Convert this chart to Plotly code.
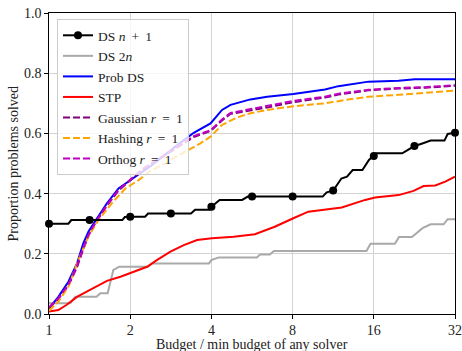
import plotly.graph_objects as go

# ---- data (budget ratio, proportion solved) ----
ds_n1_x = [1.0, 1.18, 1.21, 1.414, 1.87, 1.91, 2.0, 2.27, 2.33, 2.83, 3.36, 3.48, 3.94, 4.0, 4.29,
           5.2, 5.46, 5.66, 8.0, 10.34, 10.7, 11.31, 12.13, 12.73, 13.36, 14.52, 15.35, 16.0, 16.33,
           20.39, 21.41, 22.63, 23.92, 25.99, 29.24, 30.06, 32.0]
ds_n1_y = [0.300, 0.300, 0.312, 0.312, 0.312, 0.322, 0.323, 0.323, 0.334, 0.334, 0.334, 0.346, 0.346,
           0.356, 0.379, 0.379, 0.390, 0.390, 0.390, 0.390, 0.404, 0.410, 0.450, 0.456, 0.478, 0.478,
           0.512, 0.525, 0.534, 0.534, 0.545, 0.558, 0.565, 0.576, 0.576, 0.598, 0.602]
ds_n1_mark_x = [1.0, 1.414, 2.0, 2.83, 4.0, 5.66, 8.0, 11.31, 16.0, 22.63, 32.0]
ds_n1_mark_y = [0.300, 0.312, 0.323, 0.334, 0.356, 0.390, 0.390, 0.410, 0.525, 0.558, 0.602]

ds_2n_x = [1.0, 1.2, 1.25, 1.5, 1.55, 1.65, 1.72, 1.73, 1.82, 2.33, 2.41, 3.92, 4.0, 4.26, 5.9,
           6.06, 6.59, 6.82, 15.03, 15.56, 19.16, 19.84, 22.16, 24.25, 25.99, 29.04, 30.06, 32.0]
ds_2n_y = [0.036, 0.036, 0.057, 0.057, 0.069, 0.069, 0.135, 0.146, 0.157, 0.157, 0.168, 0.168, 0.179,
           0.188, 0.188, 0.198, 0.198, 0.209, 0.209, 0.233, 0.233, 0.256, 0.256, 0.285, 0.298, 0.298,
           0.315, 0.315]

prob_ds_x = [1.0, 1.083, 1.18, 1.27, 1.34, 1.40, 1.48, 1.64, 1.81, 1.89, 2.0, 2.21, 2.41, 2.94, 3.44,
             3.97, 4.38, 4.71, 5.20, 5.58, 6.44, 8.05, 10.55, 11.83, 15.29, 19.77, 22.72, 32.0]
prob_ds_y = [0.019, 0.057, 0.107, 0.168, 0.235, 0.273, 0.307, 0.368, 0.417, 0.429, 0.445, 0.473, 0.495,
             0.556, 0.602, 0.633, 0.678, 0.695, 0.705, 0.713, 0.722, 0.731, 0.746, 0.757, 0.772, 0.775,
             0.780, 0.780]

stp_x = [1.0, 1.083, 1.16, 1.27, 1.38, 1.50, 1.64, 1.84, 2.06, 2.31, 2.51, 2.82, 3.16, 3.54, 4.02,
         4.84, 5.80, 6.87, 8.05, 9.15, 12.17, 14.86, 16.18, 19.77, 22.47, 24.48, 27.04, 29.45, 32.0]
stp_y = [0.008, 0.013, 0.030, 0.057, 0.074, 0.091, 0.110, 0.124, 0.141, 0.157, 0.179, 0.207, 0.229,
         0.246, 0.252, 0.257, 0.265, 0.290, 0.318, 0.340, 0.354, 0.379, 0.387, 0.395, 0.409, 0.425,
         0.427, 0.440, 0.456]

gauss_x = [1.0, 1.083, 1.18, 1.27, 1.34, 1.40, 1.48, 1.64, 1.81, 2.0, 2.21, 2.41, 2.94, 3.44, 3.97,
           4.38, 4.71, 5.58, 6.44, 8.05, 10.55, 11.83, 15.29, 19.77, 25.0, 32.0]
gauss_y = [0.020, 0.050, 0.095, 0.155, 0.215, 0.260, 0.300, 0.360, 0.410, 0.445, 0.478, 0.500, 0.548,
           0.588, 0.608, 0.643, 0.665, 0.676, 0.686, 0.704, 0.719, 0.729, 0.743, 0.749, 0.752, 0.758]

orthog_x = [1.0, 1.083, 1.18, 1.27, 1.34, 1.40, 1.48, 1.64, 1.81, 2.0, 2.21, 2.41, 2.94, 3.44, 3.97,
            4.38, 4.71, 5.58, 6.44, 8.05, 10.55, 11.83, 15.29, 19.77, 25.0, 32.0]
orthog_y = [0.022, 0.052, 0.098, 0.160, 0.220, 0.262, 0.302, 0.362, 0.412, 0.447, 0.480, 0.502, 0.551,
            0.591, 0.610, 0.646, 0.668, 0.680, 0.691, 0.708, 0.722, 0.732, 0.745, 0.751, 0.754, 0.760]

hash_x = [1.0, 1.083, 1.18, 1.285, 1.40, 1.525, 1.71, 1.92, 2.15, 2.37, 2.70, 2.82, 3.64, 3.97, 4.38,
          4.98, 5.58, 6.44, 8.05, 10.55, 12.52, 15.29, 19.77, 26.3, 32.0]
hash_y = [0.011, 0.041, 0.091, 0.179, 0.257, 0.312, 0.368, 0.417, 0.445, 0.475, 0.500, 0.512, 0.567,
          0.589, 0.628, 0.653, 0.667, 0.678, 0.690, 0.700, 0.711, 0.722, 0.728, 0.735, 0.742]

x_ticks = [1, 2, 4, 8, 16, 32]
y_ticks = [0.0, 0.2, 0.4, 0.6, 0.8, 1.0]

FONT = "Liberation Serif"
TXT = "#222"
TS = "\u2009"  # thin space (math-style spacing)

fig = go.Figure()

# legend-only entry for DS n+1 (line with marker)
fig.add_trace(go.Scatter(x=[None], y=[None], mode="lines+markers",
                         name=f"DS <i>n</i>{TS} +{TS} 1",
                         line=dict(color="black", width=2), marker=dict(color="black", size=8)))
fig.add_trace(go.Scatter(x=ds_2n_x, y=ds_2n_y, mode="lines", name="DS 2<i>n</i>",
                         line=dict(color="#a9a9a9", width=2)))
fig.add_trace(go.Scatter(x=prob_ds_x, y=prob_ds_y, mode="lines", name="Prob DS",
                         line=dict(color="#0000ff", width=2)))
fig.add_trace(go.Scatter(x=stp_x, y=stp_y, mode="lines", name="STP",
                         line=dict(color="#ff0000", width=2)))
fig.add_trace(go.Scatter(x=gauss_x, y=gauss_y, mode="lines",
                         name=f"Gaussian <i>r</i>{TS} ={TS} 1",
                         line=dict(color="#800080", width=2, dash="7px,3px")))
fig.add_trace(go.Scatter(x=hash_x, y=hash_y, mode="lines",
                         name=f"Hashing <i>r</i>{TS} ={TS} 1",
                         line=dict(color="#ffa500", width=2, dash="7px,3px")))
fig.add_trace(go.Scatter(x=orthog_x, y=orthog_y, mode="lines",
                         name=f"Orthog <i>r</i>{TS} ={TS} 1",
                         line=dict(color="#bf00bf", width=2, dash="7px,3px")))
# actual DS n+1 curve and its markers
fig.add_trace(go.Scatter(x=ds_n1_x, y=ds_n1_y, mode="lines", showlegend=False,
                         line=dict(color="black", width=2)))
fig.add_trace(go.Scatter(x=ds_n1_mark_x, y=ds_n1_mark_y, mode="markers", showlegend=False,
                         marker=dict(color="black", size=8), cliponaxis=False))

axis_common = dict(showline=True, mirror=True, linecolor="black", linewidth=1.2,
                   showgrid=True, gridcolor="#d3d3d3", gridwidth=1.2,
                   ticks="outside", ticklen=3.5, tickwidth=1, tickcolor="black",
                   zeroline=False, automargin=False,
                   tickfont=dict(family=FONT, size=14, color=TXT))

fig.update_xaxes(type="log", range=[0, 1.50515], tickvals=x_ticks,
                 ticktext=[str(t) for t in x_ticks], **axis_common)
fig.update_yaxes(range=[0, 1], tickvals=y_ticks, ticktext=[f"{t:.1f}" for t in y_ticks],
                 **axis_common)

fig.add_annotation(text="Budget / min budget of any solver", xref="paper", yref="paper",
                   x=0.5, y=0, xanchor="center", yanchor="top", yshift=-21, showarrow=False,
                   font=dict(family=FONT, size=14, color=TXT))
fig.add_annotation(text="Proportion problems solved", xref="paper", yref="paper",
                   x=0, y=0.5, xanchor="center", yanchor="middle", xshift=-36, textangle=-90,
                   showarrow=False, font=dict(family=FONT, size=14, color=TXT))

fig.update_layout(
    width=462, height=351,
    margin=dict(l=49, r=7, t=13, b=37),
    paper_bgcolor="white", plot_bgcolor="white",
    font=dict(family=FONT, size=14, color=TXT),
    legend=dict(x=0.0197, y=0.98, xanchor="left", yanchor="top",
                bgcolor="rgba(255,255,255,0.8)", bordercolor="#cccccc", borderwidth=1,
                font=dict(family=FONT, size=13.5, color=TXT), tracegroupgap=0),
)

fig.write_html("out.html", config={"displayModeBar": False},
               post_script="document.body.style.margin='0';document.body.style.padding='0';")
